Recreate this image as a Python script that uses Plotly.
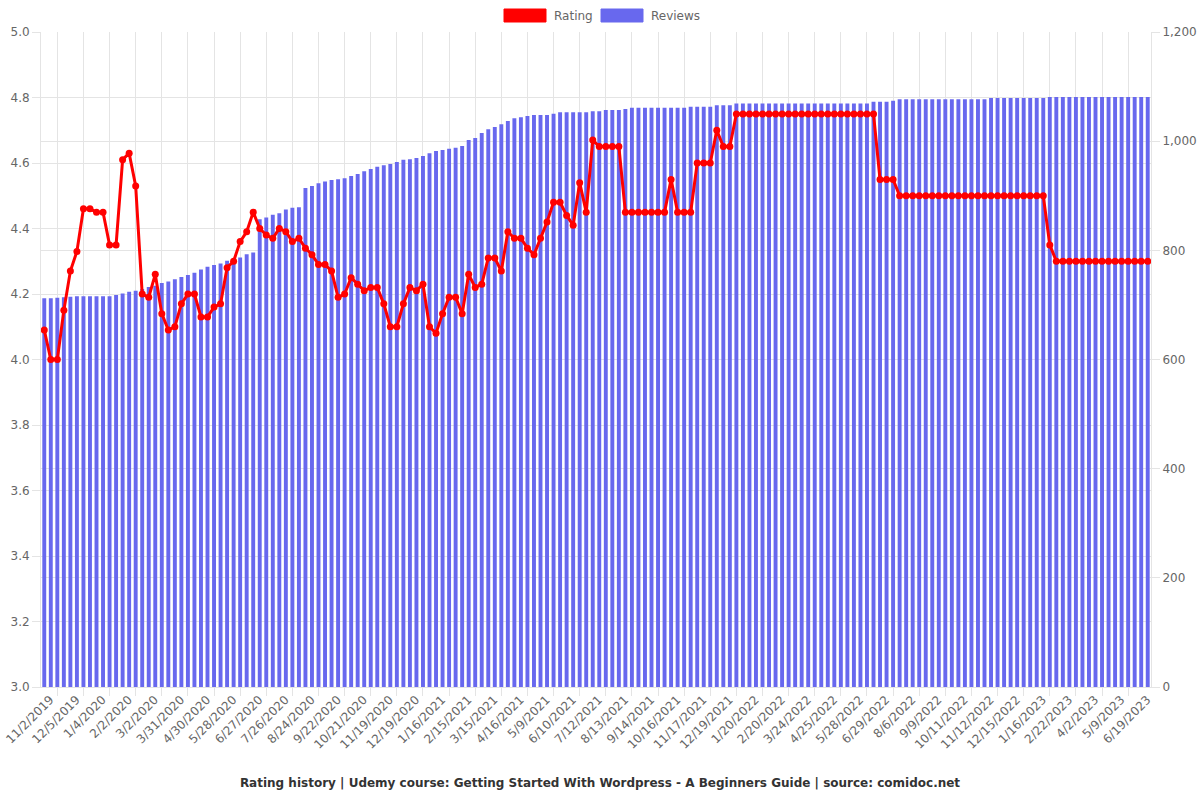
import plotly.graph_objects as go

tick_labels = [
    "11/2/2019", "12/5/2019", "1/4/2020", "2/2/2020", "3/2/2020", "3/31/2020",
    "4/30/2020", "5/28/2020", "6/27/2020", "7/26/2020", "8/24/2020", "9/22/2020",
    "10/21/2020", "11/19/2020", "12/19/2020", "1/16/2021", "2/15/2021", "3/15/2021",
    "4/16/2021", "5/9/2021", "6/10/2021", "7/12/2021", "8/13/2021", "9/14/2021",
    "10/16/2021", "11/17/2021", "12/19/2021", "1/20/2022", "2/20/2022", "3/24/2022",
    "4/25/2022", "5/28/2022", "6/29/2022", "8/6/2022", "9/9/2022", "10/11/2022",
    "11/12/2022", "12/15/2022", "1/16/2023", "2/22/2023", "4/2/2023", "5/9/2023",
    "6/19/2023",
]

ratings = [
    4.09, 4.00, 4.00, 4.15, 4.27, 4.33, 4.46, 4.46, 4.45, 4.45,
    4.35, 4.35, 4.61, 4.63, 4.53, 4.20, 4.19, 4.26, 4.14, 4.09,
    4.10, 4.17, 4.20, 4.20, 4.13, 4.13, 4.16, 4.17, 4.28, 4.30,
    4.36, 4.39, 4.45, 4.40, 4.38, 4.37, 4.40, 4.39, 4.36, 4.37,
    4.34, 4.32, 4.29, 4.29, 4.27, 4.19, 4.20, 4.25, 4.23, 4.21,
    4.22, 4.22, 4.17, 4.10, 4.10, 4.17, 4.22, 4.21, 4.23, 4.10,
    4.08, 4.14, 4.19, 4.19, 4.14, 4.26, 4.22, 4.23, 4.31, 4.31,
    4.27, 4.39, 4.37, 4.37, 4.34, 4.32, 4.37, 4.42, 4.48, 4.48,
    4.44, 4.41, 4.54, 4.45, 4.67, 4.65, 4.65, 4.65, 4.65, 4.45,
    4.45, 4.45, 4.45, 4.45, 4.45, 4.45, 4.55, 4.45, 4.45, 4.45,
    4.60, 4.60, 4.60, 4.70, 4.65, 4.65, 4.75, 4.75, 4.75, 4.75,
    4.75, 4.75, 4.75, 4.75, 4.75, 4.75, 4.75, 4.75, 4.75, 4.75,
    4.75, 4.75, 4.75, 4.75, 4.75, 4.75, 4.75, 4.75, 4.55, 4.55,
    4.55, 4.50, 4.50, 4.50, 4.50, 4.50, 4.50, 4.50, 4.50, 4.50,
    4.50, 4.50, 4.50, 4.50, 4.50, 4.50, 4.50, 4.50, 4.50, 4.50,
    4.50, 4.50, 4.50, 4.50, 4.35, 4.30, 4.30, 4.30, 4.30, 4.30,
    4.30, 4.30, 4.30, 4.30, 4.30, 4.30, 4.30, 4.30, 4.30, 4.30,
]

reviews = [
    712, 712, 713, 714, 715, 716, 716, 716, 716, 716,
    716, 718, 721, 724, 726, 729, 733, 735, 740, 743,
    747, 751, 755, 759, 765, 770, 773, 776, 781, 784,
    787, 793, 796, 857, 860, 865, 868, 875, 878, 879,
    914, 918, 923, 926, 929, 930, 932, 936, 940, 945,
    949, 953, 956, 958, 962, 966, 967, 969, 973, 978,
    982, 984, 986, 988, 991, 1002, 1006, 1015, 1022, 1026,
    1031, 1037, 1042, 1044, 1046, 1048, 1048, 1048, 1050, 1053,
    1053, 1053, 1053, 1053, 1055, 1055, 1057, 1057, 1057, 1059,
    1061, 1061, 1061, 1061, 1061, 1061, 1061, 1061, 1061, 1063,
    1063, 1063, 1063, 1066, 1066, 1066, 1069, 1069, 1069, 1069,
    1069, 1069, 1069, 1069, 1069, 1069, 1069, 1069, 1069, 1069,
    1069, 1069, 1069, 1069, 1069, 1069, 1069, 1072, 1072, 1072,
    1074, 1077, 1077, 1077, 1077, 1077, 1077, 1077, 1077, 1077,
    1077, 1077, 1077, 1077, 1077, 1079, 1079, 1079, 1079, 1079,
    1079, 1079, 1079, 1079, 1081, 1081, 1081, 1081, 1081, 1081,
    1081, 1081, 1081, 1081, 1081, 1081, 1081, 1081, 1081, 1081,
]

n = len(ratings)
idx = list(range(n))
label_step = 4
label_pos = list(range(0, n, label_step))[: len(tick_labels)]
grid_pos = [p - label_step / 2 for p in label_pos if p - label_step / 2 >= 0]

RED = "#ff0000"
BLUE = "#6868ee"
GRID = "#e4e4e4"
TXT = "#666666"
FONT = "DejaVu Sans"

fig = go.Figure()
fig.add_trace(go.Bar(
    x=idx, y=reviews, name="Reviews", marker=dict(color=BLUE, line=dict(width=0)),
    yaxis="y", hoverinfo="y",
))
fig.add_trace(go.Scatter(
    x=idx, y=ratings, name="Rating", mode="lines+markers",
    line=dict(color=RED, width=3), marker=dict(size=7, color=RED),
    yaxis="y2", cliponaxis=False,
))

L, R, T, B = 41, 49, 32, 113
W, H = 1200 - L - R, 800 - T - B

def px(x):
    return (x - L) / W

def py(y):
    return (800 - B - y) / H

fig.update_layout(
    width=1200, height=800,
    margin=dict(l=L, r=R, t=T, b=B, pad=0),
    paper_bgcolor="white", plot_bgcolor="white",
    showlegend=False, bargap=0.4,
    font=dict(family=FONT, size=12, color=TXT),
    title=dict(
        text="<b>Rating history | Udemy course: Getting Started With Wordpress - A Beginners Guide | source: comidoc.net</b>",
        x=0.5, xanchor="center", yref="container", y=1 - 783 / 800, yanchor="middle",
        font=dict(family=FONT, size=12, color="#333333"),
    ),
    xaxis=dict(
        range=[-0.5, n - 0.5], tickmode="array", tickvals=label_pos, ticktext=tick_labels,
        tickangle=-45, showgrid=False, ticks="", zeroline=False, automargin=False,
        ticklabeloverflow="allow", ticklabelshift=6,
        showline=True, linecolor=GRID, linewidth=1,
        tickfont=dict(family=FONT, size=12, color=TXT),
        minor=dict(tickmode="array", tickvals=grid_pos, showgrid=True, gridcolor=GRID,
                   gridwidth=1, ticks="outside", ticklen=8, tickcolor=GRID),
    ),
    yaxis=dict(
        side="right", range=[0, 1200], tickmode="linear", tick0=0, dtick=200,
        tickformat=",", showgrid=True, gridcolor=GRID, zeroline=False, automargin=False,
        showline=True, linecolor=GRID, ticks="outside", ticklen=8, tickcolor=GRID,
        tickfont=dict(family=FONT, size=12, color=TXT),
    ),
    yaxis2=dict(
        side="left", overlaying="y", range=[3, 5], tickmode="linear", tick0=3, dtick=0.2,
        tickformat=".1f", showgrid=True, gridcolor=GRID, zeroline=False, automargin=False,
        showline=True, linecolor=GRID, ticks="outside", ticklen=8, tickcolor=GRID,
        tickfont=dict(family=FONT, size=12, color=TXT),
    ),
)

# Legend drawn like the original (wide colour boxes)
legend_items = [("Rating", RED, 504, 546), ("Reviews", BLUE, 601, 643)]
for name, col, x0, x1 in legend_items:
    fig.add_shape(type="rect", xref="paper", yref="paper",
                  x0=px(x0), x1=px(x1), y0=py(22), y1=py(9),
                  fillcolor=col, line=dict(color=col, width=1))
    fig.add_annotation(text=name, xref="paper", yref="paper", x=px(x1 + 6), y=py(16),
                       xanchor="left", yanchor="middle", showarrow=False,
                       font=dict(family=FONT, size=12, color=TXT))

fig.write_html("out.html")
